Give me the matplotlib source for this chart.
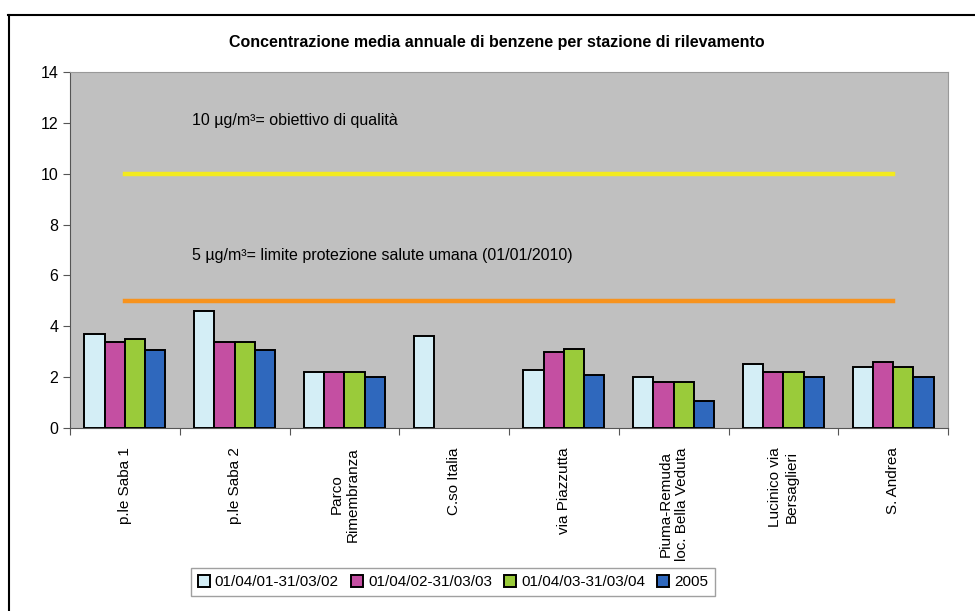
import matplotlib
matplotlib.use("Agg")
import matplotlib.pyplot as plt
import numpy as np
from matplotlib.lines import Line2D

plt.rcParams['font.family'] = ['Liberation Sans', 'DejaVu Sans']

stations = ["p.le Saba 1", "p.le Saba 2", "Parco\nRimembranza", "C.so Italia",
            "via Piazzutta", "Piuma-Remuda\nloc. Bella Veduta", "Lucinico via\nBersaglieri",
            "S. Andrea"]
periods = ["01/04/01-31/03/02", "01/04/02-31/03/03", "01/04/03-31/03/04", "2005"]
p_2001 = [3.7, 4.6, 2.2, 3.6, 2.3, 2.0, 2.5, 2.4]
p_2002 = [3.4, 3.4, 2.2, np.nan, 3.0, 1.8, 2.2, 2.6]
p_2003 = [3.5, 3.4, 2.2, np.nan, 3.1, 1.8, 2.2, 2.4]
p_2005 = [3.05, 3.05, 2.0, np.nan, 2.1, 1.07, 2.0, 2.0]
obiettivo = [10] * 8
limite = [5] * 8

colors = ["#d4eef6", "#c44fa2", "#9acb3a", "#2f68bd"]

fig = plt.figure(figsize=(9.75, 6.11), dpi=100)
ax = fig.add_axes([70/975, 1-428/611, 878/975, 356/611])
ax.set_facecolor("#c0c0c0")

x = np.arange(len(stations))
w = 0.185
series = [p_2001, p_2002, p_2003, p_2005]
for i, vals in enumerate(series):
    ax.bar(x + (i - 1.5) * w, vals, w, color=colors[i], edgecolor="black",
           linewidth=1.4, label=periods[i], zorder=3)

ax.plot(x, obiettivo, color="#f2ea1f", linewidth=3.2, zorder=2)
ax.plot(x, limite, color="#f7931e", linewidth=3.2, zorder=2)

ax.text(0.61, 12.1, "10 µg/m³= obiettivo di qualità", fontsize=11.5, va="center")
ax.text(0.61, 6.8, "5 µg/m³= limite protezione salute umana (01/01/2010)", fontsize=11.5, va="center")

ax.set_xlim(-0.5, len(stations) - 0.5)
ax.set_ylim(0, 14)
ax.set_yticks(range(0, 15, 2))
ax.tick_params(axis="y", labelsize=11.5, length=5, color="#555555")
ax.set_xticks(np.arange(-0.5, len(stations) - 0.4, 1))
ax.set_xticklabels([])
ax.tick_params(axis="x", length=5, color="#555555")
for xi, name in zip(x, stations):
    ax.text(xi, -0.75, name, rotation=90, ha="center", va="top", fontsize=11,
            multialignment="center")

for s in ["top", "right"]:
    ax.spines[s].set_color("#999999")
for s in ["left", "bottom"]:
    ax.spines[s].set_color("#555555")

fig.text(0.51, 1-42/611, "Concentrazione media annuale di benzene per stazione di rilevamento",
         ha="center", va="center", fontsize=11.5, fontweight="bold")

leg = ax.legend(loc="center", bbox_to_anchor=(453/975, 1-582/611), bbox_transform=fig.transFigure,
                ncol=4, frameon=True, fancybox=False, fontsize=11, handlelength=0.8, handleheight=0.8,
                handletextpad=0.3, columnspacing=0.8, borderpad=0.45)
leg.get_frame().set_edgecolor("#888888")
leg.get_frame().set_linewidth(1.0)

fig.add_artist(Line2D([8/975, 1], [1-15/611, 1-15/611], color="black", linewidth=1.5))
fig.add_artist(Line2D([9/975, 9/975], [0, 1-15/611], color="black", linewidth=1.5))

fig.savefig("out.png", dpi=100)
